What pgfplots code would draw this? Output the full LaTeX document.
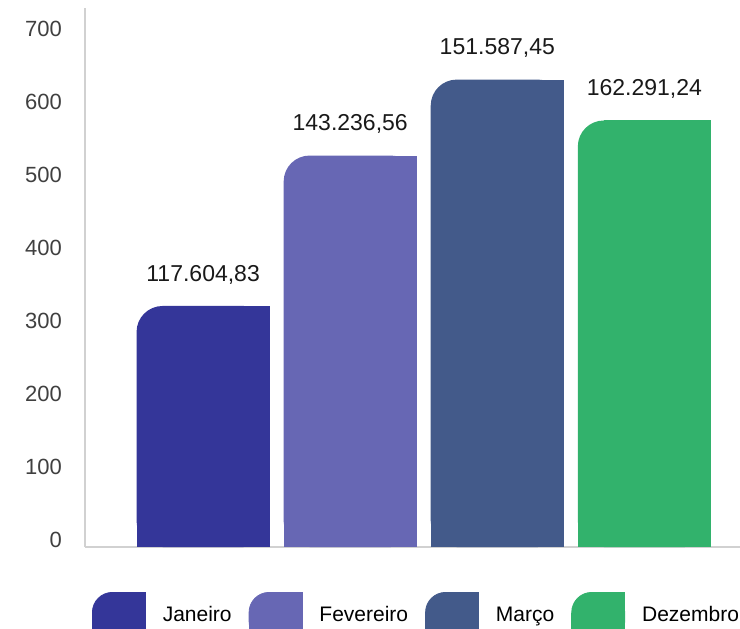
\documentclass[border=0pt]{standalone}
\usepackage{fontspec}
\setmainfont{Liberation Sans}
\usepackage{pgfplots}
\usepackage{pgfplotstable}
\pgfplotsset{compat=1.18}
\definecolor{cJan}{RGB}{52,54,153}
\definecolor{cFev}{RGB}{103,103,180}
\definecolor{cMar}{RGB}{67,90,138}
\definecolor{cDez}{RGB}{50,178,108}

\pgfplotstableread{
x y label
0 330 {117.604,83}
}\tJan
\pgfplotstableread{
x y label
1 536 {143.236,56}
}\tFev
\pgfplotstableread{
x y label
2 640 {151.587,45}
}\tMar
\pgfplotstableread{
x y label
3 584 {162.291,24}
}\tDez

\pgfplotsset{
  roundbar/.style={ybar, bar width=0.905, bar shift=0pt, draw=none, fill=#1, rounded corners=13pt,
    nodes near coords, point meta=explicit symbolic,
    every node near coord/.append style={anchor=base, yshift=12.4pt, inner sep=0pt, text=black!90,
      font=\fontsize{11.5}{13}\selectfont}},
  sharpA/.style={ybar, bar width=0.905, bar shift=0pt, draw=none, fill=#1, sharp corners, forget plot},
  sharpB/.style={ybar, bar width=0.73, bar shift=0.0875, draw=none, fill=#1, sharp corners, forget plot},
  swatch/.style={legend image code/.code={
      \fill[#1, rounded corners=10pt] (0pt,-13pt) rectangle (26.5pt,11.5pt);
      \fill[#1] (0pt,-13pt) rectangle (26.5pt,1pt);
      \fill[#1] (10pt,-13pt) rectangle (26.5pt,11.5pt);}},
}

\begin{document}
\begin{tikzpicture}
\useasboundingbox (-42.5pt,-40.5pt) rectangle (327.5pt,273.5pt);
\clip (-42.5pt,-40.5pt) rectangle (327.5pt,273.5pt);
\begin{axis}[
  at={(0,0)}, anchor=south west, scale only axis,
  width=327.5pt, height=269.5pt,
  xmin=-0.803, xmax=3.65, ymin=0, ymax=738,
  axis lines=left, axis line style={-, draw=black!18, line width=0.8pt},
  xtick=\empty, ytick={0,100,...,700},
  major tick length=0pt,
  /pgf/number format/assume math mode=true,
  yticklabel style={font=\fontsize{11}{13}\selectfont, text=black!75, xshift=-8pt, yshift=3.5pt},
  legend columns=4,
  legend style={draw=none, fill=none, at={(0.0107,-0.0835)}, anchor=north west,
    inner sep=0pt, outer sep=0pt, column sep=8.5pt,
    nodes={inner sep=0pt}, font=\fontsize{10.5}{12}\selectfont},
]
\addplot[sharpA=cJan] table[x=x, y expr=\thisrow{y}-36] {\tJan};
\addplot[sharpB=cJan] table[x=x, y=y] {\tJan};
\addplot[roundbar=cJan, forget plot] table[x=x, y=y, meta=label] {\tJan};

\addplot[sharpA=cFev] table[x=x, y expr=\thisrow{y}-36] {\tFev};
\addplot[sharpB=cFev] table[x=x, y=y] {\tFev};
\addplot[roundbar=cFev, forget plot] table[x=x, y=y, meta=label] {\tFev};

\addplot[sharpA=cMar] table[x=x, y expr=\thisrow{y}-36] {\tMar};
\addplot[sharpB=cMar] table[x=x, y=y] {\tMar};
\addplot[roundbar=cMar, forget plot] table[x=x, y=y, meta=label] {\tMar};

\addplot[sharpA=cDez] table[x=x, y expr=\thisrow{y}-36] {\tDez};
\addplot[sharpB=cDez] table[x=x, y=y] {\tDez};
\addplot[roundbar=cDez, forget plot] table[x=x, y=y, meta=label] {\tDez};

\addlegendimage{swatch=cJan}\addlegendentry{Janeiro}
\addlegendimage{swatch=cFev}\addlegendentry{Fevereiro}
\addlegendimage{swatch=cMar}\addlegendentry{Março}
\addlegendimage{swatch=cDez}\addlegendentry{Dezembro}
\end{axis}
\end{tikzpicture}
\end{document}
